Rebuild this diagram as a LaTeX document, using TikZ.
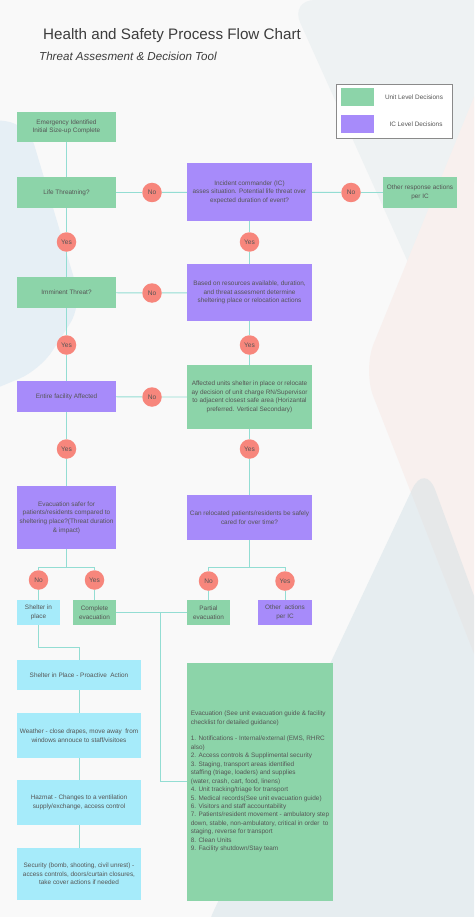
\documentclass[tikz,border=0pt]{standalone}
\usepackage{fontspec}
\setmainfont{Liberation Sans}
\definecolor{cgreen}{HTML}{8CD4A9}
\definecolor{cpurple}{HTML}{A78BFA}
\definecolor{ccyan}{HTML}{A6EBFA}
\definecolor{csalmon}{HTML}{F7867C}
\definecolor{cline}{HTML}{93DDD3}
\definecolor{ctext}{HTML}{555555}
\definecolor{ctitle}{HTML}{3C3C3C}
\definecolor{cbg}{HTML}{F9F9F9}
\definecolor{legb}{HTML}{8A8A8A}
\definecolor{bgblue}{HTML}{E6EFF5}
\definecolor{bggrey}{HTML}{EEF2F3}
\definecolor{bgpink}{HTML}{F8F0EE}
\definecolor{bgtri}{HTML}{C9DBE2}
\tikzset{
  box/.style={rectangle, inner sep=1pt, align=center, text=ctext, font=\fontsize{6.4}{8.6}\selectfont},
  gbox/.style={box, fill=cgreen},
  pbox/.style={box, fill=cpurple},
  cbox/.style={box, fill=ccyan},
  sz/.style 2 args={minimum width=#1pt, minimum height=#2pt},
  dot/.style={circle, fill=csalmon, minimum size=19.5pt, inner sep=0pt, text=ctext, font=\fontsize{6.6}{7}\selectfont},
  conn/.style={draw=cline, line width=0.9pt},
}
\begin{document}
\begin{tikzpicture}[x=1pt,y=-1pt]
\useasboundingbox (0,0) rectangle (474,917);
\begin{scope}
\clip (0,0) rectangle (474,917);
\fill[cbg] (0,0) rectangle (474,917);
% background decorations
\fill[bgblue, rounded corners=22pt] (-20,118) -- (28,124) -- (82,305) -- (40,370) -- (-20,395) -- cycle;
\fill[bggrey, rounded corners=25pt] (290,0) -- (500,0) -- (500,120) -- (425,300) -- cycle;
\fill[bgpink, rounded corners=28pt] (620,-40) -- (485,70) -- (363,370) -- (500,720) -- (620,720) -- cycle;
\fill[bgtri, fill opacity=0.38, rounded corners=30pt] (200,940) -- (425,462) -- (600,940) -- cycle;
\end{scope}

% title
\node[anchor=base west, inner sep=0, text=ctitle, font=\fontsize{15.2}{18}\selectfont] (title) at (43,39.5) {Health and Safety Process Flow Chart};
\node[anchor=base west, inner sep=0, text=ctitle, font=\fontsize{11.6}{14}\selectfont\itshape] (sub) at (39,61) {Threat Assesment \& Decision Tool};

% legend
\node[draw=legb, fill=white, line width=0.8pt, sz={116}{54}] (leg) at (394,111) {};
\node[fill=cgreen, sz={33}{18}, inner sep=0] (lg1) at (357.5,97.5) {};
\node[fill=cpurple, sz={33}{18}, inner sep=0] (lg2) at (357.5,124.5) {};
\node[box] (lt1) at (414,97) {Unit Level Decisions};
\node[box] (lt2) at (416,124.5) {IC Level Decisions};

% nodes
\node[gbox, sz={99}{30}] (em) at (66.5,127) {Emergency Identified\\Initial Size-up Complete};
\node[gbox, sz={99}{31}] (life) at (66.5,192.5) {Life Threatning?};
\node[pbox, sz={125}{58}] (ic) at (249.5,192) {Incident commander (IC)\\asses situation. Potential life threat over\\expected duration of event?};
\node[gbox, sz={74}{31}] (oth) at (420,192.5) {Other response actions\\per IC};
\node[dot] (no1) at (152,192.5) {No};
\node[dot] (no2) at (351,192.5) {No};
\node[dot] (y1) at (66.5,242) {Yes};
\node[dot] (y2) at (249.5,242) {Yes};
\node[gbox, sz={99}{31}] (imm) at (66.5,292.5) {Imminent Threat?};
\node[pbox, sz={125}{57}] (bas) at (249.5,292.5) {Based on resources available, duration,\\and threat assesment determine\\sheltering place or relocation actions};
\node[dot] (no3) at (152,293) {No};
\node[dot] (y3) at (66.5,345) {Yes};
\node[dot] (y4) at (249.5,345) {Yes};
\node[pbox, sz={99}{31}] (ent) at (66.5,396.5) {Entire facility Affected};
\node[gbox, sz={125}{64}] (aff) at (249.5,397) {Affected units shelter in place or relocate\\ay decision of unit charge RN/Supervisor\\to adjacent closest safe area (Horizantal\\preferred. Vertical Secondary)};
\node[dot] (no4) at (152,397) {No};
\node[dot] (y5) at (66.5,449) {Yes};
\node[dot] (y6) at (249.5,449) {Yes};
\node[pbox, sz={99}{63}] (evs) at (66.5,517.5) {Evacuation safer for\\patients/residents compared to\\sheltering place?(Threat duration\\\& impact)};
\node[pbox, sz={125}{45}] (can) at (249.5,517.5) {Can relocated patients/residents be safely\\cared for over time?};
\coordinate (b1) at (66.5,567);
\coordinate (b2) at (249.5,567);
\node[dot] (no5) at (38.5,580) {No};
\node[dot] (y7) at (94.5,580) {Yes};
\node[dot] (no6) at (208.5,581) {No};
\node[dot] (y8) at (285,581) {Yes};
\node[cbox, sz={43}{25}] (sip) at (38.5,612.5) {Shelter in\\place};
\node[gbox, sz={43}{25}] (ce) at (94.5,612.5) {Complete\\evacuation};
\node[gbox, sz={43}{25}] (pe) at (208.5,612.5) {Partial\\evacuation};
\node[pbox, sz={54}{25}] (oa) at (285,612.5) {Other~ actions\\per IC};
\node[cbox, sz={124}{30}] (sipa) at (79,675) {Shelter in Place - Proactive~ Action};
\node[cbox, sz={124}{45}] (wea) at (79,735.5) {Weather - close drapes, move away~ from\\windows annouce to staff/visitoes};
\node[cbox, sz={124}{45}] (haz) at (79,802.5) {Hazmat - Changes to a ventilation\\supply/exchange, access control};
\node[cbox, sz={124}{52}] (sec) at (79,874) {Security (bomb, shooting, civil unrest) -\\access controls, doors/curtain closures,\\take cover actions if needed};
\node[gbox, sz={146}{238}, align=left, font=\fontsize{6.4}{8.45}\selectfont] (evb) at (260,781.5) {Evacuation (See unit evacuation guide \& facility\\checklist for detailed guidance)\\[8.45pt]1. Notifications - Internal/external (EMS, RHRC\\also)\\2. Access controls \& Supplimental security\\3. Staging, transport areas identified\\staffing (triage, loaders) and supplies\\(water, crash, cart, food, linens)\\4. Unit tracking/triage for transport\\5. Medical records(See unit evacuation guide)\\6. Visitors and staff accountability\\7. Patients/resident movement - ambulatory step\\down, stable, non-ambulatory, critical in order~ to\\staging, reverse for transport\\8. Clean Units\\9. Facility shutdown/Stay team};
\coordinate (j) at (160,612.5);
\coordinate (c3) at (38.5,647);

% connectors
\draw[conn] (em) -- (life);
\draw[conn] (life) -- (no1) -- (ic) -- (no2) -- (oth);
\draw[conn] (life) -- (y1) -- (imm);
\draw[conn] (ic) -- (y2) -- (bas);
\draw[conn] (imm) -- (no3) -- (bas);
\draw[conn] (imm) -- (y3) -- (ent);
\draw[conn] (bas) -- (y4) -- (aff);
\draw[conn] (ent) -- (no4) -- (aff);
\draw[conn] (ent) -- (y5) -- (evs);
\draw[conn] (aff) -- (y6) -- (can);
\draw[conn] (evs) -- (b1) -| (no5);
\draw[conn] (b1) -| (y7);
\draw[conn] (no5) -- (sip);
\draw[conn] (y7) -- (ce);
\draw[conn] (can) -- (b2) -| (no6);
\draw[conn] (b2) -| (y8);
\draw[conn] (no6) -- (pe);
\draw[conn] (y8) -- (oa);
\draw[conn] (ce) -- (pe);
\draw[conn] (j) |- (evb);
\draw[conn] (sip) -- (c3) -| (sipa);
\draw[conn] (sipa) -- (wea) -- (haz) -- (sec);
\end{tikzpicture}
\end{document}
